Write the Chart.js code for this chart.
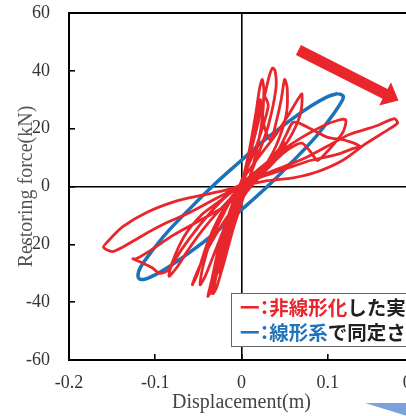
<!DOCTYPE html>
<html>
<head>
<meta charset="utf-8">
<script src="https://cdn.jsdelivr.net/npm/chart.js@4.4.1/dist/chart.umd.min.js"></script>
<style>
  html, body { margin: 0; padding: 0; background: #fff; overflow: hidden; width: 406px; height: 416px; }
  #wrap { position: relative; width: 406px; height: 416px; overflow: hidden; }
  #chart { position: absolute; left: 0; top: 0; }
  .legend {
    position: absolute; left: 231px; top: 293px; width: 200px; height: 54px;
    box-sizing: border-box; border: 1px solid #666; background: #fff;
    font-family: "Noto Sans CJK JP"; font-weight: 700; font-size: 19.5px;
    line-height: 25px; color: #231f20; padding-left: 8px; white-space: nowrap;
  }
  .legend div { height: 25px; }
  .red { color: #e8262c; }
  .blue { color: #1f74bd; }
  .colon { font-feature-settings: "palt"; }
  .deco {
    position: absolute; left: 365px; top: 403px; width: 75px; height: 13px;
    background: #7ba2dc; clip-path: polygon(0 0, 100% 0, 100% 100%, 56% 100%);
  }
</style>
</head>
<body>
<div id="wrap">
  <canvas id="chart" width="440" height="416" style="width:440px;height:416px"></canvas>
  <div class="legend">
    <div><span class="red">一<span class="colon">：</span>非線形化</span>した実</div>
    <div><span class="blue">一<span class="colon">：</span>線形系</span>で同定さ</div>
  </div>
  <div class="deco"></div>
</div>
<script>
// tick values
const xTicks = [-0.2, -0.1, 0, 0.1, 0.2];
const yTicks = [-60, -40, -20, 0, 20, 40, 60];

// measured hysteresis (red), loop by loop
const redDisp = [
  0, 0.006, 0.013, 0.019, 0.022, 0.019, 0.011, 0.002, -0.008, -0.016, -0.022, -0.025, -0.019, -0.009, 0.002,
  0.01, 0.017, 0.021, 0.024, 0.026, 0.023, 0.014, 0.004, -0.01, -0.021, -0.029, -0.033, -0.028, -0.019, -0.008, 0.004,
  0.015, 0.025, 0.032, 0.036, 0.039, 0.04, 0.031, 0.018, 0.005, -0.01, -0.024, -0.034, -0.039, -0.035, -0.027, -0.014, 0,
  0.016, 0.026, 0.031, 0.027, 0.024, 0.027, 0.034,
  0.04, 0.046, 0.05, 0.053, 0.052, 0.04, 0.025, 0.01, -0.006, -0.02, -0.03, -0.036, -0.033, -0.025, -0.012, 0.003,
  0.022, 0.04, 0.055, 0.065, 0.07, 0.069, 0.06, 0.045, 0.025, 0.005, -0.015, -0.03, -0.042, -0.048, -0.045, -0.036, -0.02, -0.003,
  0.02, 0.045, 0.07, 0.095, 0.113, 0.121, 0.118, 0.108, 0.096, 0.088, 0.08, 0.07, 0.055, 0.035, 0.015, -0.005, -0.025, -0.045, -0.062, -0.075, -0.084, -0.08, -0.066, -0.047, -0.025, -0.005,
  0.02, 0.05, 0.08, 0.11, 0.128, 0.137, 0.12, 0.1, 0.08, 0.066, 0.059, 0.052, 0.04, 0.02, 0, -0.02, -0.05, -0.08, -0.105, -0.122, -0.126, -0.118, -0.104, -0.095, -0.085, -0.07, -0.05, -0.03, -0.012, 0.002,
  0.03, 0.06, 0.087, 0.117, 0.145, 0.172, 0.181, 0.177, 0.157, 0.125, 0.1, 0.075, 0.05, 0.025, 0.005, -0.015, -0.045, -0.075, -0.11, -0.138, -0.155, -0.16, -0.15, -0.138, -0.115, -0.09, -0.06, -0.035, -0.01,
  0.015, 0.035, 0.05, 0.042, 0.02, 0, -0.02, -0.04, -0.052, -0.057, -0.052, -0.04, -0.025, -0.01, 0
];
const redForce = [
  0, 7, 17, 26, 30, 24, 12, 1, -10, -20, -27, -30, -21, -9, 3,
  14, 26, 34, 37, 33, 21, 8, -2, -15, -27, -35, -37, -29, -17, -5, 5,
  17, 29, 38, 41, 40, 34, 21, 10, 0, -12, -26, -35, -38, -33, -22, -9, 2,
  13, 22, 28, 31, 27, 20, 16,
  22, 30, 37, 34, 25, 14, 6, 0, -8, -20, -30, -37, -32, -21, -8, 3,
  11, 18, 25, 30, 32, 26, 19, 12, 5, -2, -11, -22, -31, -34, -28, -19, -9, 0,
  6, 12, 17, 21, 23, 23, 19, 15, 11, 9, 12, 15, 13, 8, 3, -2, -8, -15, -22, -28, -31, -26, -17, -10, -5, 0,
  3, 6, 9, 11, 13, 14, 16, 17, 20, 22, 22, 18, 11, 4, -2, -7, -12, -17, -22, -25, -25, -26, -28, -30, -29, -22, -14, -7, -2, 0,
  2, 3, 5, 9, 15, 20, 22, 23.5, 21, 18, 14, 10, 7, 4, 1, -1, -3, -5, -9, -14, -19, -21, -22.5, -21, -17, -13, -9, -5, -1,
  4, 10, 15, 10, 3, -4, -12, -22, -30, -34, -31, -20, -10, -3, 0
];

// identified linear system (blue ellipse)
const blueDisp = [0.112, 0.100, 0.081, 0.056, 0.027, -0.003, -0.034, -0.062, -0.087, -0.105, -0.117, -0.120, -0.116,
  -0.104, -0.085, -0.060, -0.031, -0.001, 0.030, 0.058, 0.083, 0.101, 0.113, 0.118, 0.112];
const blueForce = [32.2, 31.1, 27.9, 22.8, 16.1, 8.3, 0, -8.3, -16.1, -22.8, -27.9, -31.1, -32.2,
  -31.1, -27.9, -22.8, -16.1, -8.3, 0, 8.3, 16.1, 22.8, 27.9, 31.1, 32.2];

// arrow annotation (data coords)
const arrowFrom = [0.066, 47.2];
const arrowTo = [0.182, 29.7];

const redPts = redDisp.map((d, i) => ({ x: d, y: redForce[i] }));
const bluePts = blueDisp.map((d, i) => ({ x: d, y: blueForce[i] }));

const serif = 'Liberation Serif';

const decor = {
  id: 'decor',
  afterDraw(chart) {
    const { ctx, chartArea: a, scales: { x, y } } = chart;
    ctx.save();
    // top / right frame
    ctx.strokeStyle = '#000';
    ctx.lineWidth = 2;
    ctx.beginPath();
    ctx.moveTo(a.left - 1, a.top);
    ctx.lineTo(a.right, a.top);
    ctx.lineTo(a.right, a.bottom);
    ctx.stroke();

    // red arrow
    const sx = x.getPixelForValue(arrowFrom[0]), sy = y.getPixelForValue(arrowFrom[1]);
    const ex = x.getPixelForValue(arrowTo[0]), ey = y.getPixelForValue(arrowTo[1]);
    const dx = ex - sx, dy = ey - sy, L = Math.hypot(dx, dy);
    const ux = dx / L, uy = dy / L, nx = -uy, ny = ux;
    const head = 15, hw = 13, sw = 5.5;
    const bx = ex - ux * head, by = ey - uy * head;
    ctx.fillStyle = '#e8262c';
    ctx.beginPath();
    ctx.moveTo(sx + nx * sw, sy + ny * sw);
    ctx.lineTo(bx + nx * sw, by + ny * sw);
    ctx.lineTo(bx + nx * hw, by + ny * hw);
    ctx.lineTo(ex, ey);
    ctx.lineTo(bx - nx * hw, by - ny * hw);
    ctx.lineTo(bx - nx * sw, by - ny * sw);
    ctx.lineTo(sx - nx * sw, sy - ny * sw);
    ctx.closePath();
    ctx.fill();
    ctx.restore();
  }
};

const zeroLine = c => (c.tick && c.tick.value === 0) ? '#000' : 'rgba(0,0,0,0)';

new Chart(document.getElementById('chart'), {
  type: 'scatter',
  data: {
    datasets: [
      {
        label: '非線形化した実',
        data: redPts,
        showLine: true,
        borderColor: '#e8262c',
        borderWidth: 2.8,
        pointRadius: 0,
        tension: 0.25,
        fill: false
      },
      {
        label: '線形系で同定さ',
        data: bluePts,
        showLine: true,
        borderColor: '#1a72ba',
        borderWidth: 3.5,
        pointRadius: 0,
        tension: 0.4,
        fill: false
      }
    ]
  },
  options: {
    responsive: false,
    devicePixelRatio: 1,
    animation: false,
    layout: { padding: { top: 13, right: 26, bottom: 0, left: 0 } },
    plugins: { legend: { display: false }, tooltip: { enabled: false } },
    scales: {
      x: {
        type: 'linear',
        min: -0.2,
        max: 0.2,
        afterBuildTicks: s => { s.ticks = xTicks.map(v => ({ value: v })); },
        afterFit: s => { s.height = 56; s.paddingLeft = 0; s.paddingRight = 0; },
        ticks: {
          font: { family: serif, size: 18 },
          color: '#333',
          padding: 18,
          maxRotation: 0,
          callback: v => String(Math.round(v * 10) / 10)
        },
        grid: { color: zeroLine, lineWidth: 1.6, tickLength: -6, tickColor: '#000', tickWidth: 1.6 },
        border: { color: '#000', width: 2 },
        title: {
          display: true,
          text: 'Displacement(m)',
          font: { family: serif, size: 20 },
          color: '#444',
          padding: { top: 0, bottom: 1 }
        }
      },
      y: {
        type: 'linear',
        min: -60,
        max: 60,
        afterBuildTicks: s => { s.ticks = yTicks.map(v => ({ value: v })); },
        afterFit: s => { s.width = 69; s.paddingTop = 0; s.paddingBottom = 0; },
        ticks: {
          font: { family: serif, size: 18 },
          color: '#333',
          padding: 25
        },
        grid: { color: zeroLine, lineWidth: 1.6, tickLength: -6, tickColor: '#000', tickWidth: 1.6 },
        border: { color: '#000', width: 2 },
        title: {
          display: true,
          text: 'Restoring force(kN)',
          font: { family: serif, size: 20 },
          color: '#555',
          padding: { top: 15, bottom: 0 }
        }
      }
    }
  },
  plugins: [decor]
});
</script>
</body>
</html>
